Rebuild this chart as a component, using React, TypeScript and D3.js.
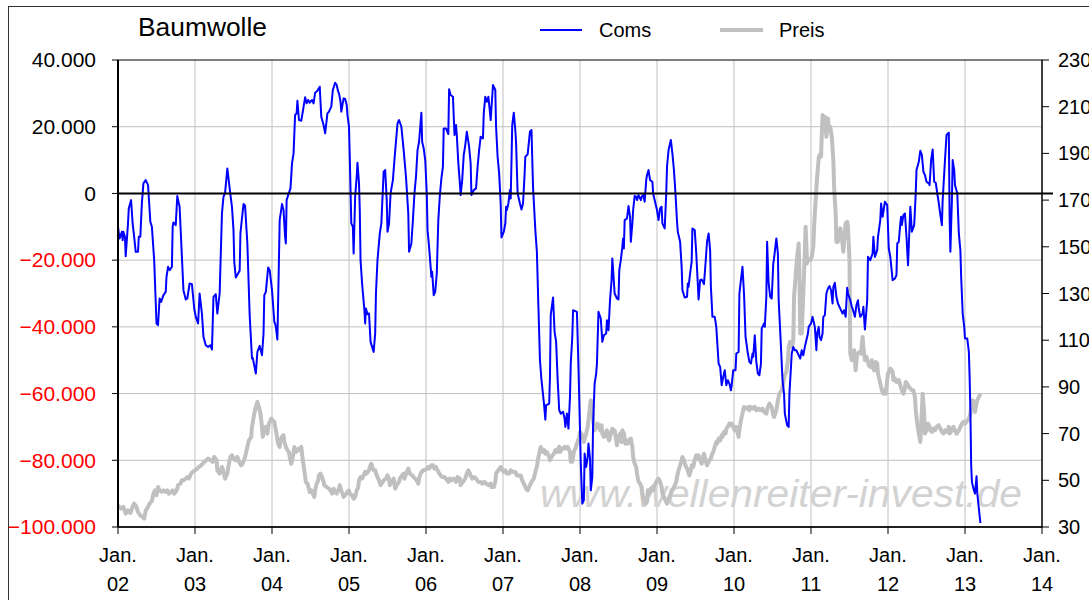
import React from "react";
import * as d3 from "d3";

// ---- data ----
const title = "Baumwolle";
const seriesNames = ["Coms", "Preis"];
const xTickYears = [2002, 2003, 2004, 2005, 2006, 2007, 2008, 2009, 2010, 2011, 2012, 2013, 2014];
const leftTicks = [40, 20, 0, -20, -40, -60, -80, -100]; // in thousands
const rightTicks = [230, 210, 190, 170, 150, 130, 110, 90, 70, 50, 30];
const watermark = "www.wellenreiter-invest.de";

// Coms (net positions, thousands of contracts) [decimal year, value]
const coms: [number, number][] = [
  [2002.00,-10],[2002.02,-13.5],[2002.05,-11.5],[2002.06,-14],[2002.07,-11.5],[2002.09,-13],[2002.10,-18.8],[2002.13,-9],[2002.14,-4.5],[2002.17,-2],[2002.19,-9],[2002.21,-13],[2002.23,-17.5],[2002.26,-17.5],[2002.27,-13],[2002.29,-13],[2002.31,-3],[2002.33,3],[2002.36,4],[2002.39,2.5],[2002.42,-8.5],[2002.44,-10],[2002.47,-20],[2002.50,-39],[2002.52,-39.5],[2002.54,-31.5],[2002.56,-32.5],[2002.59,-30.5],[2002.62,-29.5],[2002.63,-25],[2002.65,-22],[2002.67,-23],[2002.70,-22],[2002.71,-10],[2002.72,-8.7],[2002.75,-9.5],[2002.77,-0.8],[2002.80,-4],[2002.85,-29],[2002.88,-31.8],[2002.90,-31.5],[2002.93,-27],[2002.96,-27.2],[2002.99,-34.5],[2003.01,-37],[2003.04,-39],[2003.06,-30],[2003.09,-36],[2003.11,-43],[2003.14,-45.5],[2003.17,-46],[2003.20,-45.5],[2003.22,-46.8],[2003.24,-31],[2003.27,-30.2],[2003.29,-36],[2003.32,-30],[2003.35,-6],[2003.37,-1],[2003.39,0],[2003.42,7.5],[2003.45,1.5],[2003.48,-4],[2003.50,-11],[2003.51,-20.5],[2003.53,-25.2],[2003.58,-23.2],[2003.59,-12],[2003.61,-7.5],[2003.63,-3.2],[2003.65,-3.6],[2003.68,-15],[2003.71,-36.5],[2003.74,-49.5],[2003.75,-49.3],[2003.79,-54],[2003.81,-47.5],[2003.84,-45.7],[2003.87,-48.5],[2003.89,-42],[2003.90,-30.5],[2003.92,-29.5],[2003.95,-22.2],[2003.97,-23],[2004.00,-29],[2004.03,-38.5],
  [2004.04,-39],[2004.05,-40],[2004.07,-43.8],[2004.10,-8],[2004.13,-3.2],[2004.15,-5],[2004.17,-13],[2004.18,-15],[2004.19,-2],[2004.21,-0.5],[2004.24,1.5],[2004.26,9],[2004.28,12],[2004.30,23.5],[2004.32,24],[2004.33,27.8],[2004.35,22],[2004.38,21.8],[2004.40,24.5],[2004.43,28.8],[2004.45,27],[2004.47,28],[2004.49,27.2],[2004.52,28],[2004.54,27],[2004.56,30.2],[2004.59,30.8],[2004.62,32],[2004.64,23],[2004.67,20.5],[2004.69,18],[2004.72,24],[2004.74,24.5],[2004.77,26],[2004.79,31],[2004.82,33.2],[2004.84,32.5],[2004.86,30.5],[2004.87,30],[2004.89,27.5],[2004.90,24.5],[2004.93,28.5],[2004.95,28.3],[2004.97,26.5],[2004.98,23.5],[2005.00,20],[2005.01,11],[2005.03,-9],[2005.05,-10],[2005.06,-18],[2005.08,-1],[2005.10,5],[2005.11,9.2],[2005.13,3],[2005.14,-5],[2005.15,-20],[2005.17,-27],[2005.20,-35],[2005.21,-39],[2005.22,-34.5],[2005.24,-36.2],[2005.26,-36],[2005.28,-44.5],[2005.32,-47.5],[2005.34,-42],[2005.35,-30],[2005.37,-20],[2005.40,-12],[2005.42,-9],[2005.45,6.5],[2005.47,7],[2005.49,-2],[2005.50,-11.5],[2005.52,-9],[2005.54,0],[2005.57,4],[2005.59,10],[2005.63,21],[2005.65,22],[2005.68,20],[2005.71,13],[2005.74,5],[2005.77,-6],[2005.78,-17.5],[2005.81,-15],[2005.83,-8],[2005.85,0],[2005.87,5],[2005.89,13],[2005.91,15.5],[2005.94,24.2],[2005.95,15.5],[2005.97,13.5],[2005.99,10],
  [2006.01,0],[2006.02,-11],[2006.04,-16],[2006.07,-25],[2006.08,-23.5],[2006.10,-30.5],[2006.12,-29.5],[2006.14,-24],[2006.16,-8],[2006.18,-0.5],[2006.20,4.5],[2006.22,8],[2006.23,19.5],[2006.26,19.5],[2006.29,17.8],[2006.30,31.2],[2006.32,29.5],[2006.35,29],[2006.37,17.5],[2006.39,20.5],[2006.40,17.5],[2006.42,9],[2006.44,3],[2006.45,-0.5],[2006.47,4],[2006.49,11.5],[2006.51,14.5],[2006.53,18.5],[2006.56,14],[2006.58,9],[2006.59,-0.5],[2006.62,1],[2006.65,1.5],[2006.67,8],[2006.69,13],[2006.71,17],[2006.74,16.5],[2006.75,24],[2006.77,29],[2006.79,27.5],[2006.81,29],[2006.83,24.5],[2006.84,22],[2006.87,32.5],[2006.90,31],[2006.91,20],[2006.93,11],[2006.95,6],[2006.97,-3],[2006.98,-13.2],[2007.01,-11.5],[2007.03,-9],[2007.04,-4],[2007.05,-5],[2007.07,-3],[2007.09,1],[2007.10,-1.5],[2007.12,20.5],[2007.14,24.2],[2007.16,19],[2007.17,15],[2007.19,0],[2007.22,-3],[2007.24,-4.8],[2007.26,-3],[2007.28,5.5],[2007.29,11],[2007.32,11.7],[2007.35,18.5],[2007.37,19],[2007.39,2],[2007.42,-11],[2007.44,-17.5],[2007.46,-34],[2007.48,-50],[2007.50,-56],[2007.53,-62.5],[2007.55,-67.8],[2007.56,-63.5],[2007.60,-63],[2007.61,-55],[2007.62,-36.5],[2007.65,-31.2],[2007.67,-41.5],[2007.69,-44.5],[2007.71,-56],[2007.73,-65],[2007.75,-66],[2007.78,-65.5],[2007.80,-67.5],[2007.81,-70],[2007.83,-66],[2007.85,-70.5],[2007.87,-61],[2007.88,-51],[2007.90,-43],[2007.91,-35],[2007.96,-35.5],[2007.98,-52],[2008.00,-71],[2008.01,-81],[2008.03,-93],[2008.05,-92],[2008.06,-78],
  [2008.08,-82],[2008.10,-79],[2008.11,-75],[2008.13,-79.5],[2008.14,-89],[2008.16,-85],[2008.17,-69],[2008.19,-57],[2008.21,-54],[2008.22,-51],[2008.24,-35.5],[2008.27,-37.5],[2008.29,-44.5],[2008.31,-42.5],[2008.34,-42],[2008.35,-38],[2008.37,-41],[2008.39,-32],[2008.41,-26],[2008.42,-19.5],[2008.45,-30],[2008.48,-31.5],[2008.50,-31.8],[2008.51,-23],[2008.53,-20],[2008.55,-16],[2008.56,-13.5],[2008.57,-16.5],[2008.58,-8],[2008.61,-7.5],[2008.63,-3.8],[2008.65,-7],[2008.66,-14.5],[2008.68,-9],[2008.69,-5],[2008.71,-0.8],[2008.73,-1],[2008.74,-2],[2008.76,-0.5],[2008.79,-2],[2008.80,-1],[2008.82,-0.5],[2008.84,-2.5],[2008.86,4],[2008.87,5.5],[2008.89,7],[2008.91,4],[2008.94,3.5],[2008.95,0],[2008.98,-3],[2009.00,-5],[2009.02,-8],[2009.04,-4.5],[2009.06,-4],[2009.07,-9],[2009.10,-10.5],[2009.12,0],[2009.13,8],[2009.15,13],[2009.18,16],[2009.20,12],[2009.22,7],[2009.24,0],[2009.26,-8.5],[2009.27,-11.5],[2009.30,-14.5],[2009.32,-22],[2009.33,-29],[2009.36,-31.2],[2009.39,-31],[2009.40,-27],[2009.41,-28],[2009.43,-24],[2009.45,-20.5],[2009.46,-10.5],[2009.49,-11],[2009.51,-18],[2009.54,-31.8],[2009.56,-26],[2009.58,-25.8],[2009.61,-27.2],[2009.63,-21],[2009.65,-14.5],[2009.67,-12],[2009.69,-17],[2009.70,-28],[2009.72,-37],[2009.75,-37],[2009.77,-40],[2009.80,-51],[2009.82,-52],[2009.84,-57.5],[2009.86,-55],[2009.88,-53],[2009.90,-57.5],[2009.92,-56],[2009.94,-57],[2009.96,-59],[2009.97,-57.5],[2009.99,-53],[2010.02,-53],[2010.03,-48],
  [2010.06,-47.5],[2010.07,-30],[2010.09,-26],[2010.11,-22],[2010.13,-30],[2010.15,-43],[2010.18,-48],[2010.20,-50.5],[2010.22,-51],[2010.24,-48],[2010.25,-49],[2010.27,-42.5],[2010.29,-50.5],[2010.31,-54],[2010.33,-54.5],[2010.35,-51],[2010.36,-40.5],[2010.39,-39],[2010.40,-40],[2010.42,-31],[2010.43,-14.5],[2010.45,-27],[2010.47,-31],[2010.49,-31.5],[2010.51,-21],[2010.52,-19.5],[2010.55,-13.5],[2010.57,-18],[2010.58,-32],[2010.61,-46],[2010.63,-56],[2010.65,-60],[2010.66,-66],[2010.69,-69.5],[2010.71,-70],[2010.72,-60],[2010.75,-48],[2010.77,-46],[2010.79,-47],[2010.81,-47],[2010.83,-48],[2010.86,-49.5],[2010.88,-47],[2010.90,-48.5],[2010.92,-46],[2010.94,-44],[2010.96,-42],[2010.97,-40],[2011.00,-39],[2011.02,-37],[2011.03,-38],[2011.05,-40],[2011.07,-47],[2011.08,-42],[2011.10,-40],[2011.11,-43],[2011.13,-44],[2011.15,-42],[2011.16,-37],[2011.18,-36.5],[2011.20,-30],[2011.22,-28.5],[2011.24,-27.8],[2011.26,-29],[2011.28,-33],[2011.29,-28],[2011.31,-26.8],[2011.33,-31],[2011.35,-33],[2011.37,-34],[2011.40,-35.5],[2011.41,-36],[2011.43,-35],[2011.45,-37],[2011.47,-28.3],[2011.48,-30],[2011.51,-32],[2011.53,-34],[2011.54,-34.5],[2011.57,-37],[2011.59,-33.5],[2011.61,-32],[2011.62,-34.5],[2011.64,-37],[2011.67,-36],[2011.68,-34],[2011.70,-40.8],[2011.73,-32],[2011.74,-19],[2011.77,-20],[2011.80,-18],[2011.81,-13],[2011.83,-19],[2011.86,-17],[2011.87,-13],[2011.90,-8],[2011.91,-3],[2011.93,-7],[2011.96,-2.5],[2011.99,-3.5],[2012.01,-16.5],[2012.03,-19],[2012.06,-26],
  [2012.09,-25.5],[2012.11,-24.5],[2012.12,-15],[2012.14,-14.5],[2012.16,-9],[2012.17,-7],[2012.18,-9.5],[2012.20,-6.5],[2012.22,-6],[2012.24,-13],[2012.26,-21.5],[2012.29,-4],[2012.31,-11.5],[2012.34,-9.5],[2012.36,0],[2012.37,7],[2012.40,9.5],[2012.42,12.8],[2012.44,11.5],[2012.46,6.5],[2012.48,5.5],[2012.50,3.5],[2012.53,3],[2012.54,2.5],[2012.56,10],[2012.58,13.2],[2012.60,3.5],[2012.62,3.2],[2012.64,0],[2012.66,-3],[2012.68,-6.5],[2012.70,-9.5],[2012.71,-2],[2012.74,10],[2012.76,17.5],[2012.79,18.2],[2012.80,-7],[2012.81,-17.5],[2012.83,-2],[2012.84,10],[2012.86,7],[2012.87,2.5],[2012.90,0],[2012.92,-12],[2012.94,-17],[2012.95,-25],[2012.97,-36],[2012.99,-40],[2013.00,-43.5],[2013.03,-43.5],[2013.05,-47.5],[2013.06,-55],[2013.07,-65],[2013.08,-81.5],[2013.09,-86.5],[2013.11,-88.5],[2013.13,-90],[2013.15,-84.8],[2013.16,-90],[2013.18,-94.5],[2013.20,-98.8],
];

// Preis (US cents/lb) [decimal year, value]
const preis: [number, number][] = [
  [2002.00,39.3],[2002.04,37.9],[2002.07,38.6],[2002.10,35.7],[2002.13,37.1],[2002.16,36],[2002.19,38.6],[2002.21,40],[2002.24,38.6],[2002.26,36.4],[2002.29,35],[2002.32,34.3],[2002.34,33.6],[2002.36,37],[2002.39,38.6],[2002.41,40],[2002.44,41.1],[2002.46,44.3],[2002.48,45.7],[2002.50,43.6],[2002.52,47.1],[2002.54,45.7],[2002.57,45],[2002.59,45.7],[2002.62,45],[2002.64,45.7],[2002.66,44.3],[2002.69,45],[2002.71,45.7],[2002.73,44.3],[2002.75,45],[2002.77,46.4],[2002.78,47.9],[2002.81,48.6],[2002.83,50],[2002.85,50],[2002.88,50.7],[2002.90,51.4],[2002.92,50.7],[2002.95,52.9],[2002.97,53.6],[2003.00,54.3],[2003.03,55],[2003.05,55.7],[2003.08,56.4],[2003.10,57.1],[2003.12,57.9],[2003.15,58.6],[2003.17,59.3],[2003.20,58.6],[2003.23,57.9],[2003.25,60],[2003.28,58.6],[2003.29,54.3],[2003.32,52.9],[2003.35,55.7],[2003.36,55],[2003.39,50.7],[2003.42,52.9],[2003.44,57.1],[2003.46,60],[2003.48,60.7],[2003.50,59.3],[2003.52,58.6],[2003.55,60],[2003.57,57.9],[2003.60,56.4],[2003.62,57.1],[2003.65,60],[2003.68,64.3],[2003.70,67.1],[2003.73,68.6],[2003.74,72.9],[2003.77,78.6],[2003.79,81.4],[2003.81,83.6],[2003.83,81.4],[2003.85,78.6],[2003.87,72.9],[2003.88,68.6],[2003.90,71.4],[2003.92,72.9],[2003.94,70],[2003.96,74.3],[2003.99,76.4],[2004.01,75.7],[2004.03,75],
  [2004.05,71.4],[2004.08,65.7],[2004.10,64.3],[2004.11,67.1],[2004.13,68.6],[2004.15,69.3],[2004.16,66.4],[2004.18,64.3],[2004.20,62.9],[2004.22,62.1],[2004.23,60],[2004.25,57.1],[2004.27,60],[2004.29,64.3],[2004.31,62.1],[2004.33,62.9],[2004.35,63.6],[2004.36,62.9],[2004.38,64.3],[2004.40,58.6],[2004.42,54.3],[2004.44,49.3],[2004.46,48.6],[2004.48,46.4],[2004.49,45],[2004.51,45.7],[2004.53,44.3],[2004.55,42.9],[2004.56,45.7],[2004.58,48.6],[2004.60,50],[2004.61,52.1],[2004.63,52.9],[2004.65,51.4],[2004.67,49.3],[2004.68,47.9],[2004.71,47.1],[2004.74,46.4],[2004.76,45.7],[2004.78,44.3],[2004.80,46.4],[2004.82,45],[2004.84,44.3],[2004.87,46.4],[2004.88,47.9],[2004.90,45.7],[2004.93,42.9],[2004.95,43.6],[2004.98,45],[2005.00,45.7],[2005.01,44.3],[2005.04,43.6],[2005.06,42.1],[2005.08,42.9],[2005.10,45.7],[2005.12,47.1],[2005.13,50],[2005.15,51.4],[2005.17,50.7],[2005.19,52.1],[2005.21,53.6],[2005.23,52.9],[2005.26,54.3],[2005.27,55.7],[2005.29,57.1],[2005.31,55],[2005.32,54.3],[2005.34,54.3],[2005.36,52.1],[2005.39,50],[2005.41,47.9],[2005.44,49.3],[2005.45,50],[2005.48,50.7],[2005.50,52.1],[2005.52,50.7],[2005.53,47.9],[2005.56,49.3],[2005.58,50.7],[2005.60,46.4],[2005.62,47.9],[2005.65,49.3],[2005.66,50.7],[2005.69,52.1],[2005.71,52.9],[2005.72,50.7],[2005.75,53.6],[2005.77,55],[2005.79,52.9],[2005.82,52.1],[2005.84,51.4],[2005.86,50.7],[2005.88,50],[2005.90,48.6],[2005.91,50.7],[2005.93,52.9],[2005.96,54.3],[2005.98,54.3],[2006.01,55],[2006.03,55.7],
  [2006.04,55],[2006.07,56.4],[2006.09,56.4],[2006.11,55],[2006.13,55.7],[2006.16,53.6],[2006.19,52.1],[2006.21,51.4],[2006.24,51.4],[2006.26,50.7],[2006.29,49.3],[2006.31,50.7],[2006.33,50],[2006.36,50.7],[2006.39,49.3],[2006.41,51.4],[2006.44,50.7],[2006.45,47.9],[2006.48,49.3],[2006.51,50.7],[2006.53,52.9],[2006.55,54.3],[2006.58,52.1],[2006.60,50.7],[2006.63,51.4],[2006.65,50.7],[2006.68,49.3],[2006.71,49.3],[2006.73,48.6],[2006.76,49.3],[2006.78,48.6],[2006.81,47.9],[2006.84,48.6],[2006.85,47.1],[2006.88,47.1],[2006.90,49.3],[2006.91,52.9],[2006.94,54.3],[2006.97,55.7],[2006.98,55],[2007.01,53.6],[2007.03,54.3],[2007.05,52.9],[2007.08,52.9],[2007.10,54.3],[2007.13,53.6],[2007.16,53.6],[2007.18,52.1],[2007.21,52.1],[2007.23,52.1],[2007.25,50],[2007.28,47.9],[2007.30,46.4],[2007.32,45.7],[2007.35,47.9],[2007.37,49.3],[2007.40,50.7],[2007.42,53.6],[2007.44,55.7],[2007.46,60],[2007.49,64.3],[2007.50,63.6],[2007.52,62.1],[2007.54,62.9],[2007.55,61.4],[2007.57,62.1],[2007.60,60],[2007.61,58.6],[2007.63,60],[2007.66,61.4],[2007.68,62.9],[2007.70,62.1],[2007.73,64.3],[2007.74,62.1],[2007.77,63.6],[2007.80,64.3],[2007.81,63.6],[2007.84,64.3],[2007.87,62.1],[2007.88,57.9],[2007.90,57.9],[2007.92,62.1],[2007.94,63.6],[2007.96,65.7],[2007.99,68.6],[2008.00,70.7],[2008.03,69.3],
  [2008.05,66.4],[2008.08,70],[2008.10,72.9],[2008.12,78.6],[2008.14,84.3],[2008.16,82.9],[2008.17,75.7],[2008.19,71.4],[2008.21,72.9],[2008.23,74.3],[2008.24,73.6],[2008.26,71.4],[2008.28,73.6],[2008.29,70],[2008.31,68.6],[2008.33,70],[2008.35,71.4],[2008.36,68.6],[2008.38,67.1],[2008.40,70],[2008.42,72.1],[2008.43,70.7],[2008.45,71.4],[2008.47,67.1],[2008.48,65],[2008.50,68.6],[2008.52,70],[2008.54,66.4],[2008.55,71.4],[2008.57,70],[2008.59,65.7],[2008.61,67.1],[2008.62,65.7],[2008.64,67.1],[2008.66,67.9],[2008.68,64.3],[2008.69,60],[2008.71,57.1],[2008.73,55.7],[2008.74,52.9],[2008.76,49.3],[2008.78,48.6],[2008.80,47.1],[2008.81,44.3],[2008.83,41.4],[2008.85,40],[2008.87,40.7],[2008.88,45.7],[2008.90,44.3],[2008.92,46.4],[2008.94,47.1],[2008.95,45.7],[2008.97,47.9],[2008.99,49.3],[2009.00,50],[2009.02,50.7],[2009.04,49.3],[2009.06,47.1],[2009.07,44.3],[2009.09,42.9],[2009.11,41.4],[2009.13,40],[2009.14,40.7],[2009.16,42.9],[2009.18,44.3],[2009.19,45.7],[2009.21,46.4],[2009.23,47.9],[2009.25,49.3],[2009.26,51.4],[2009.28,54.3],[2009.30,56.4],[2009.32,58.6],[2009.33,60],[2009.35,58.6],[2009.37,56.4],[2009.39,55],[2009.40,54.3],[2009.42,52.1],[2009.44,54.3],[2009.45,56.4],[2009.47,55.7],[2009.49,58.6],[2009.51,60.7],[2009.52,59.3],[2009.54,60.7],[2009.56,58.6],[2009.58,57.1],[2009.59,58.6],[2009.61,61.4],[2009.63,58.6],[2009.65,56.4],[2009.66,57.1],[2009.68,58.6],[2009.70,59.3],[2009.71,60.7],[2009.73,62.1],[2009.75,64.3],[2009.77,66.4],[2009.78,65.7],[2009.80,67.9],[2009.82,67.1],[2009.84,69.3],[2009.85,68.6],[2009.87,70.7],[2009.89,70],[2009.90,72.1],[2009.92,72.9],[2009.94,74.3],[2009.96,73.6],[2009.97,74.3],[2009.99,72.9],[2010.01,71.4],[2010.03,72.9],
  [2010.06,68.6],[2010.07,71.4],[2010.09,75.7],[2010.12,80],[2010.13,81.4],[2010.16,80.7],[2010.19,81.4],[2010.20,80],[2010.22,81.4],[2010.25,80.7],[2010.27,81.4],[2010.29,80],[2010.32,80.7],[2010.34,80],[2010.37,80.7],[2010.39,79.3],[2010.42,78.6],[2010.44,81.4],[2010.46,82.9],[2010.49,81.4],[2010.51,77.9],[2010.52,77.1],[2010.55,80],[2010.57,84.3],[2010.59,87.1],[2010.62,88.6],[2010.64,91.4],[2010.66,95],[2010.68,96.4],[2010.70,101.4],[2010.71,107.1],[2010.73,109.3],[2010.75,107.1],[2010.77,110],[2010.78,128.6],[2010.80,137.1],[2010.82,145.7],[2010.84,151.4],[2010.85,138.6],[2010.86,112.9],[2010.88,112.9],[2010.90,130],[2010.91,138.6],[2010.93,158.6],[2010.95,142.9],[2010.96,144.3],[2010.99,144.3],[2011.01,145.7],[2011.03,150],[2011.04,158.6],[2011.06,170],[2011.08,180],[2011.10,187.9],[2011.11,189.3],[2011.13,188.6],[2011.15,206.4],[2011.16,201.4],[2011.18,205.7],[2011.20,197.1],[2011.22,205],[2011.23,200],[2011.25,201.4],[2011.27,197.1],[2011.29,187.1],[2011.30,175.7],[2011.32,164.3],[2011.33,152.1],[2011.35,152.1],[2011.36,155.7],[2011.38,157.9],[2011.40,154.3],[2011.42,147.9],[2011.43,152.1],[2011.45,160],[2011.47,160.7],[2011.48,158.6],[2011.50,144.3],[2011.51,104.3],[2011.53,101.4],[2011.54,102.9],[2011.56,105.7],[2011.58,97.1],[2011.60,104.3],[2011.61,104.3],[2011.63,105],[2011.65,104.3],[2011.67,111.4],[2011.68,107.1],[2011.70,101.4],[2011.72,102.9],[2011.74,100.7],[2011.75,99.3],[2011.77,98.6],[2011.79,101.4],[2011.80,98.6],[2011.82,97.1],[2011.84,100.7],[2011.86,100],[2011.87,95.7],[2011.90,91.4],[2011.92,88.6],[2011.94,87.1],[2011.95,88.6],[2011.97,87.1],[2011.99,92.9],[2012.00,95.7],[2012.03,97.9],[2012.06,96.4],
  [2012.07,92.9],[2012.09,93.6],[2012.11,92.1],[2012.14,92.9],[2012.16,90.7],[2012.18,88.6],[2012.20,87.1],[2012.22,89.3],[2012.23,92.1],[2012.25,91.4],[2012.27,90],[2012.29,89.3],[2012.31,88.6],[2012.33,88.6],[2012.35,85.7],[2012.36,80],[2012.38,74.3],[2012.40,70],[2012.42,66.4],[2012.43,72.9],[2012.45,87.1],[2012.47,78.6],[2012.48,70],[2012.50,71.4],[2012.52,74.3],[2012.54,72.9],[2012.55,71.4],[2012.57,70.7],[2012.59,72.1],[2012.61,71.4],[2012.63,72.9],[2012.66,73.6],[2012.68,72.1],[2012.70,70.7],[2012.72,70],[2012.74,71.4],[2012.77,70.7],[2012.79,72.9],[2012.80,70],[2012.83,71.4],[2012.85,72.9],[2012.87,71.4],[2012.89,70],[2012.92,71.4],[2012.94,72.9],[2012.96,74.3],[2012.98,75],[2013.00,74.3],[2013.02,75],[2013.05,76.4],[2013.07,78.6],[2013.08,81.4],[2013.10,84.3],[2013.12,82.9],[2013.13,79.3],[2013.14,81.4],[2013.16,84.3],[2013.18,85.7],[2013.20,87.1],
];

// ---- layout ----
const W = 1089;
const H = 600;
const plot = { left: 118, right: 1042, top: 60, bottom: 527 };
const FONT = "'Liberation Sans', Arial, sans-serif";
const BLUE = "#0000ff";
const GRAY = "#c0c0c0";
const GRID = "#c0c0c0";

const deLocale = d3.formatLocale({ decimal: ",", thousands: ".", grouping: [3], currency: ["", " €"] });
const fmtThousands = deLocale.format(",");

export default function App() {
  const x = d3.scaleLinear().domain([2002, 2014]).range([plot.left, plot.right]);
  const yL = d3.scaleLinear().domain([-100, 40]).range([plot.bottom, plot.top]);
  const yR = d3.scaleLinear().domain([30, 230]).range([plot.bottom, plot.top]);

  const comsLine = d3.line<[number, number]>().x((d) => x(d[0])).y((d) => yL(d[1]));
  const preisLine = d3.line<[number, number]>().x((d) => x(d[0])).y((d) => yR(d[1]));

  return (
    <svg
      width={W}
      height={H}
      style={{ position: "absolute", left: 0, top: 0, background: "#fff" }}
      fontFamily={FONT}
    >
      <rect x={0} y={0} width={W} height={H} fill="#fff" />
      {/* outer chart border */}
      <rect x={8.5} y={6.5} width={1200} height={800} fill="none" stroke="#333" strokeWidth={1} />

      {/* title */}
      <text x={138} y={36} fontSize={25} fill="#000" textLength={129} lengthAdjust="spacingAndGlyphs">{title}</text>

      {/* legend */}
      <line x1={540} x2={582} y1={30} y2={30} stroke={BLUE} strokeWidth={2} />
      <text x={599} y={37} fontSize={20} fill="#000">{seriesNames[0]}</text>
      <line x1={720} x2={763} y1={30} y2={30} stroke={GRAY} strokeWidth={4} />
      <text x={779} y={37} fontSize={20} fill="#000">{seriesNames[1]}</text>

      {/* gridlines */}
      {leftTicks.filter((t) => t !== 0 && t !== 40 && t !== -100).map((t) => (
        <line key={"h" + t} x1={plot.left} x2={plot.right} y1={yL(t)} y2={yL(t)} stroke={GRID} strokeWidth={1} />
      ))}
      {xTickYears.slice(1, -1).map((yr) => (
        <line key={"v" + yr} x1={x(yr)} x2={x(yr)} y1={plot.top} y2={plot.bottom} stroke={GRID} strokeWidth={1} />
      ))}

      {/* watermark */}
      <text
        x={540}
        y={507}
        fontSize={38}
        fontStyle="italic"
        fill="#d2d2d2"
        textLength={482}
        lengthAdjust="spacingAndGlyphs"
      >
        {watermark}
      </text>

      {/* plot border */}
      <rect x={plot.left} y={plot.top} width={plot.right - plot.left} height={plot.bottom - plot.top} fill="none" stroke="#000" strokeWidth={1} />

      {/* series */}
      <path d={preisLine(preis) || ""} fill="none" stroke={GRAY} strokeWidth={4} strokeLinejoin="round" />
      <path d={comsLine(coms) || ""} fill="none" stroke={BLUE} strokeWidth={2} strokeLinejoin="round" />

      {/* zero line */}
      <line x1={plot.left} x2={plot.right + 11} y1={yL(0)} y2={yL(0)} stroke="#000" strokeWidth={2} />

      {/* left axis */}
      <line x1={plot.left} x2={plot.left} y1={plot.top} y2={plot.bottom} stroke="#000" strokeWidth={2} />
      {leftTicks.map((t) => (
        <g key={"l" + t}>
          <line x1={plot.left - 6} x2={plot.left} y1={yL(t)} y2={yL(t)} stroke="#000" strokeWidth={1} />
          <text x={96} y={yL(t)} dy="0.35em" textAnchor="end" fontSize={21} fill={t < 0 ? "#ff0000" : "#000"}>
            {fmtThousands(t * 1000)}
          </text>
        </g>
      ))}

      {/* right axis */}
      <line x1={plot.right} x2={plot.right} y1={plot.top} y2={plot.bottom} stroke="#000" strokeWidth={1} />
      {rightTicks.map((t) => (
        <g key={"r" + t}>
          <line x1={plot.right} x2={plot.right + 7} y1={yR(t)} y2={yR(t)} stroke="#000" strokeWidth={1} />
          <text x={plot.right + 16} y={yR(t)} dy="0.35em" textAnchor="start" fontSize={20} fill="#000">
            {t}
          </text>
        </g>
      ))}

      {/* bottom axis */}
      <line x1={plot.left} x2={plot.right} y1={plot.bottom} y2={plot.bottom} stroke="#000" strokeWidth={1.5} />
      {xTickYears.map((yr) => (
        <g key={"x" + yr}>
          <line x1={x(yr)} x2={x(yr)} y1={plot.bottom} y2={plot.bottom + 7} stroke="#000" strokeWidth={1} />
          <text x={x(yr)} y={562} textAnchor="middle" fontSize={20} fill="#000">Jan.</text>
          <text x={x(yr)} y={591} textAnchor="middle" fontSize={20} fill="#000">
            {String(yr % 100).padStart(2, "0")}
          </text>
        </g>
      ))}
    </svg>
  );
}
